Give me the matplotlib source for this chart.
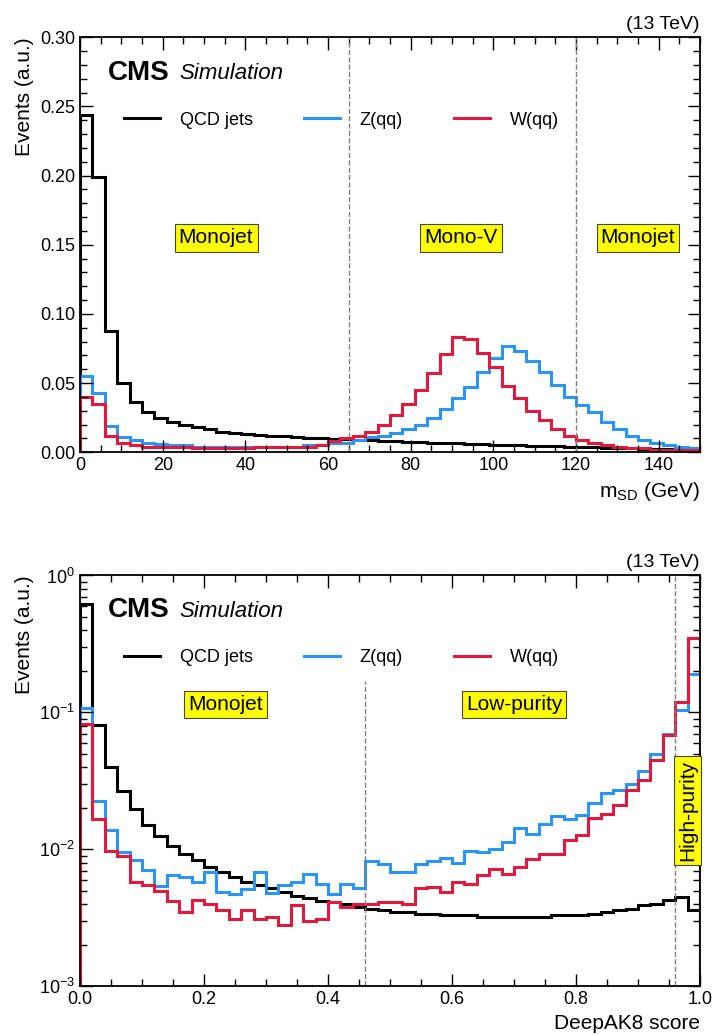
import numpy as np
import matplotlib
matplotlib.use("Agg")
import matplotlib.pyplot as plt
from matplotlib.ticker import AutoMinorLocator, LogLocator, NullFormatter

plt.rcParams['font.family'] = ['Liberation Sans', 'DejaVu Sans']
plt.rcParams['mathtext.fontset'] = 'custom'
plt.rcParams['mathtext.rm'] = 'Liberation Sans'

# ---- soft-drop mass (3 GeV bins, 0-150) ----
msd_edges = np.arange(0, 151, 3)
msd_qcd = [0.244, 0.199, 0.0875, 0.050, 0.036, 0.029, 0.025, 0.022, 0.020, 0.018,
           0.0165, 0.015, 0.014, 0.013, 0.0125, 0.012, 0.0115, 0.011, 0.0105, 0.010,
           0.0098, 0.0095, 0.009, 0.0087, 0.0084, 0.008, 0.0077, 0.0074, 0.007, 0.0067,
           0.0064, 0.0061, 0.0058, 0.0055, 0.0052, 0.005, 0.0047, 0.0044, 0.0042, 0.004,
           0.0037, 0.0035, 0.0033, 0.0031, 0.0029, 0.0027, 0.0025, 0.0023, 0.0021, 0.002]
msd_z = [0.055, 0.043, 0.019, 0.011, 0.0087, 0.007, 0.006, 0.005, 0.005, 0.004,
         0.004, 0.004, 0.0035, 0.0035, 0.004, 0.0035, 0.004, 0.004, 0.005, 0.0055,
         0.007, 0.007, 0.009, 0.011, 0.012, 0.014, 0.017, 0.020, 0.025, 0.031,
         0.039, 0.047, 0.058, 0.068, 0.077, 0.073, 0.066, 0.058, 0.049, 0.040,
         0.034, 0.029, 0.022, 0.017, 0.012, 0.009, 0.007, 0.005, 0.004, 0.003]
msd_w = [0.040, 0.035, 0.012, 0.007, 0.005, 0.004, 0.004, 0.0035, 0.0035, 0.003,
         0.003, 0.003, 0.003, 0.003, 0.0035, 0.0035, 0.0035, 0.004, 0.004, 0.005,
         0.008, 0.010, 0.012, 0.015, 0.020, 0.027, 0.035, 0.045, 0.057, 0.071,
         0.083, 0.082, 0.072, 0.062, 0.048, 0.039, 0.030, 0.023, 0.017, 0.012,
         0.009, 0.007, 0.005, 0.004, 0.003, 0.003, 0.002, 0.002, 0.002, 0.002]

# ---- DeepAK8 score (0.02 bins, 0-1) ----
dak_edges = np.linspace(0, 1, 51)
dak_qcd = [0.62, 0.081, 0.040, 0.0265, 0.0196, 0.0151, 0.0125, 0.0106, 0.0093, 0.0083,
           0.0075, 0.0068, 0.0063, 0.0058, 0.0055, 0.0052, 0.0049, 0.0046, 0.0044, 0.0042,
           0.0041, 0.0040, 0.0038, 0.0037, 0.0036, 0.0035, 0.0035, 0.0034, 0.0034, 0.0033,
           0.0033, 0.0033, 0.0032, 0.0032, 0.0032, 0.0032, 0.0032, 0.0032, 0.0033, 0.0033,
           0.0033, 0.0034, 0.0035, 0.0036, 0.0037, 0.0039, 0.0040, 0.0043, 0.0045, 0.0036]
dak_z = [0.107, 0.0225, 0.0139, 0.0095, 0.0083, 0.0071, 0.0054, 0.0065, 0.0063, 0.0058,
         0.0068, 0.0049, 0.0047, 0.0051, 0.0068, 0.0048, 0.0055, 0.0058, 0.0066, 0.0056,
         0.0047, 0.0056, 0.0052, 0.0082, 0.0078, 0.0068, 0.0068, 0.0078, 0.0082, 0.0086,
         0.0080, 0.0098, 0.0095, 0.010, 0.0114, 0.0143, 0.0129, 0.0153, 0.0175, 0.0168,
         0.0177, 0.0218, 0.026, 0.027, 0.030, 0.0376, 0.050, 0.069, 0.104, 0.19]
dak_w = [0.083, 0.0166, 0.0098, 0.0089, 0.0058, 0.0055, 0.0050, 0.0042, 0.0035, 0.0043,
         0.0040, 0.0036, 0.0031, 0.0036, 0.0031, 0.0032, 0.0028, 0.0039, 0.0030, 0.0031,
         0.0041, 0.0038, 0.0040, 0.0040, 0.0041, 0.0041, 0.0040, 0.0052, 0.0053, 0.0049,
         0.0058, 0.0056, 0.0065, 0.0072, 0.0066, 0.0075, 0.0085, 0.0093, 0.0093, 0.0118,
         0.0127, 0.017, 0.018, 0.021, 0.027, 0.032, 0.045, 0.068, 0.12, 0.35]

COLORS = {'QCD jets': 'black', 'Z(qq)': '#2b94f5', 'W(qq)': '#e0193f'}
BOX = dict(boxstyle='square,pad=0.2', fc='#ffff00', ec='#444444', lw=0.8)

fig = plt.figure(figsize=(7.15, 10.35), dpi=100)
ax1 = fig.add_axes([0.112, 0.563, 0.867, 0.401])
ax2 = fig.add_axes([0.112, 0.047, 0.867, 0.397])


def style(ax):
    ax.tick_params(which='both', direction='in', top=True, right=True, labelsize=13)
    ax.tick_params(which='major', length=9, width=1)
    ax.tick_params(which='minor', length=5, width=1)
    for s in ax.spines.values():
        s.set_linewidth(1.3)
    ax.text(0.045, 0.915, 'CMS', transform=ax.transAxes, fontsize=20,
            fontweight='bold', va='center')
    ax.text(0.16, 0.913, 'Simulation', transform=ax.transAxes, fontsize=16,
            style='italic', va='center')
    ax.text(1.0, 1.01, '(13 TeV)', transform=ax.transAxes, fontsize=14,
            ha='right', va='bottom')
    ax.set_ylabel('Events (a.u.)', fontsize=15, loc='top')
    ax.legend(loc='upper left', bbox_to_anchor=(0.045, 0.86), ncol=3, frameon=False,
              fontsize=13, handlelength=2.0, columnspacing=2.8, handletextpad=1.1)


for name, vals in [('QCD jets', msd_qcd), ('Z(qq)', msd_z), ('W(qq)', msd_w)]:
    ax1.stairs(vals, msd_edges, color=COLORS[name], lw=2.2, label=name)
ax1.set_xlim(0, 150)
ax1.set_ylim(0, 0.30)
ax1.xaxis.set_minor_locator(AutoMinorLocator(4))
ax1.yaxis.set_minor_locator(AutoMinorLocator(5))
ax1.set_yticks(np.arange(0, 0.31, 0.05))
ax1.set_yticklabels(['%.2f' % v for v in np.arange(0, 0.31, 0.05)])
for xv in (65, 120):
    ax1.axvline(xv, color='grey', ls='--', lw=1)
ax1.set_xlabel(r'm$_{\rm SD}$ (GeV)', fontsize=15, loc='right')
ax1.text(32.9, 0.155, 'Monojet', fontsize=15, ha='center', va='center', bbox=BOX)
ax1.text(92.2, 0.155, 'Mono-V', fontsize=15, ha='center', va='center', bbox=BOX)
ax1.text(135, 0.155, 'Monojet', fontsize=15, ha='center', va='center', bbox=BOX)
style(ax1)

for name, vals in [('QCD jets', dak_qcd), ('Z(qq)', dak_z), ('W(qq)', dak_w)]:
    ax2.stairs(vals, dak_edges, color=COLORS[name], lw=2.2, label=name)
ax2.set_yscale('log')
ax2.set_xlim(0, 1)
ax2.set_ylim(1e-3, 1)
ax2.xaxis.set_minor_locator(AutoMinorLocator(4))
ax2.yaxis.set_minor_locator(LogLocator(subs=np.arange(2, 10)))
ax2.yaxis.set_minor_formatter(NullFormatter())
ax2.plot([0.46, 0.46], [1e-3, 0.17], color='grey', ls='--', lw=1)
ax2.axvline(0.96, color='grey', ls='--', lw=1)
ax2.set_xlabel('DeepAK8 score', fontsize=15, loc='right')
ax2.text(0.234, 0.114, 'Monojet', fontsize=15, ha='center', va='center', bbox=BOX)
ax2.text(0.70, 0.114, 'Low-purity', fontsize=15, ha='center', va='center', bbox=BOX)
ax2.text(0.98, 0.0193, 'High-purity', fontsize=15, ha='center', va='center',
         rotation=90, bbox=BOX)
style(ax2)

fig.savefig('out.png', dpi=100)
